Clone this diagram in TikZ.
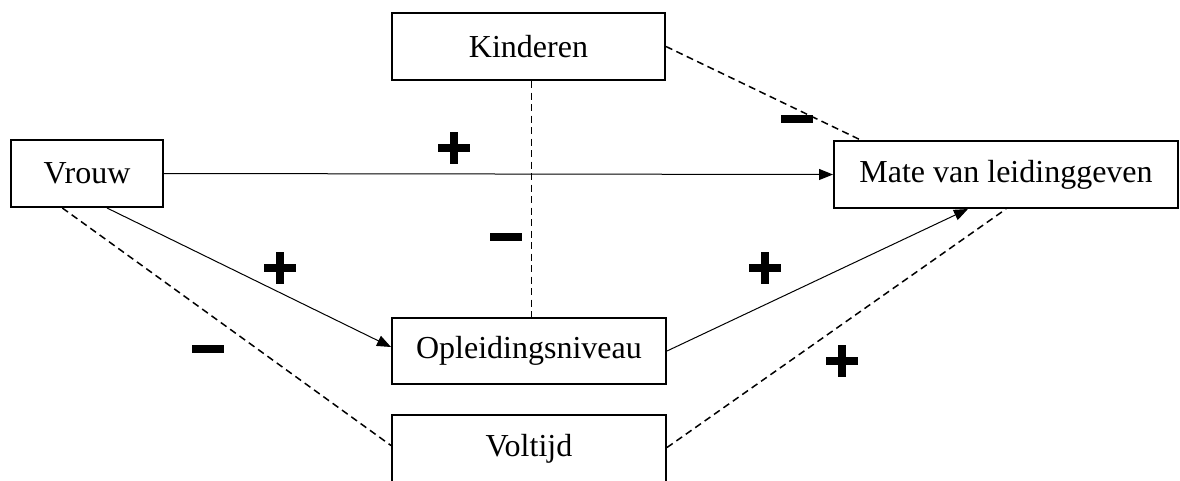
\documentclass[tikz,border=0pt]{standalone}
\usepackage{fontspec}
\setmainfont{Liberation Serif}
\newfontfamily\signfont[FakeBold=5]{DejaVu Sans Bold}
\usetikzlibrary{arrows.meta,calc}
\begin{document}
\begin{tikzpicture}[x=1pt,y=-1pt,
  box/.style={draw,line width=2pt,inner sep=0pt,font=\fontsize{32}{38}\selectfont},
  conn/.style={line width=1pt},
  arr/.style={conn,-{Triangle[length=14pt,width=11pt]}},
  dash line/.style={line width=1.5pt,dash pattern=on 7pt off 4.5pt},
  sign/.style={font=\signfont\fontsize{47}{47}\selectfont,inner sep=0pt}]
\useasboundingbox (0,0) rectangle (1180,480);
\node[box,minimum width=273pt,minimum height=67pt] (kin) at (528.5,46.5) {Kinderen};
\node[box,minimum width=152pt,minimum height=67pt] (vrouw) at (87,173.5) {Vrouw};
\node[box,minimum width=344pt,minimum height=67pt] (mate) at (1006,174.5) {Mate van leidinggeven};
\node[box,minimum width=274pt,minimum height=66pt] (opl) at (529,351) {Opleidingsniveau};
\node[box,minimum width=274pt,minimum height=67pt] (vol) at (529,448.5) {Voltijd};
% solid arrows
\draw[arr] (vrouw.east) -- (mate.west);
\draw[arr] ($(vrouw.south west)!0.63!(vrouw.south east)$) -- ([yshift=4pt]opl.west);
\draw[arr] (opl.east) -- ($(mate.south west)!0.39!(mate.south east)$);
% dashed lines
\draw[dash line] ([xshift=3pt]kin.south) -- ([xshift=3pt]kin.south |- opl.north);
\draw[dash line] (kin.east) -- ($(mate.north west)!0.08!(mate.north east)$);
\draw[dash line] ($(vrouw.south west)!0.34!(vrouw.south east)$) -- ([yshift=3pt]vol.west);
\draw[dash line] ([yshift=1pt]vol.east) -- (mate.south);
% signs
\node[sign] (p1) at (454,148) {+};
\node[sign] (m1) at (506,243) {−};
\node[sign] (m2) at (797,125) {−};
\node[sign] (p2) at (280,268) {+};
\node[sign] (p3) at (765,268) {+};
\node[sign] (m3) at (208,355) {−};
\node[sign] (p4) at (842,361) {+};
\end{tikzpicture}
\end{document}
